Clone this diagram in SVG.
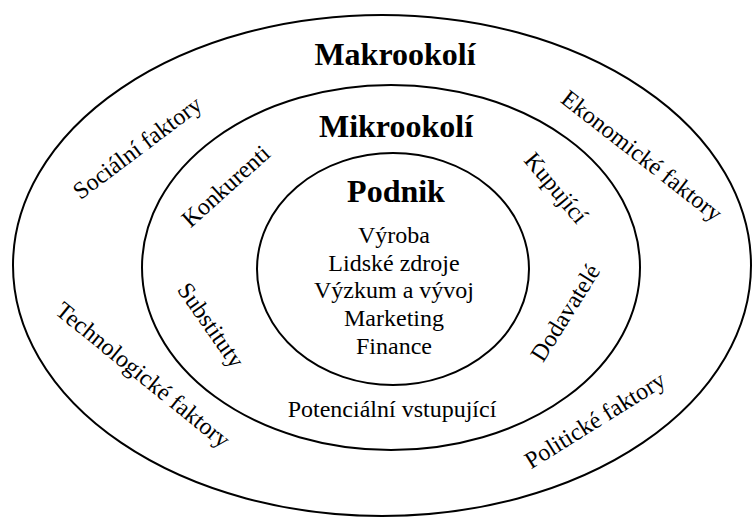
<svg xmlns="http://www.w3.org/2000/svg" width="753" height="517" viewBox="0 0 753 517">
<style>
.ring{fill:none;stroke:#000;stroke-width:2}
.t{font-family:"Liberation Serif","Times New Roman",serif;font-size:24px;fill:#000;text-anchor:middle}
.h{font-family:"Liberation Serif","Times New Roman",serif;font-size:32px;font-weight:bold;fill:#000;text-anchor:middle}
</style>
<rect width="753" height="517" fill="#fff"/>
<g id="makrookoli">
<ellipse class="ring" cx="382" cy="265.5" rx="369" ry="250.5"/>
<text class="h" x="395" y="65">Makrookolí</text>
<text class="t" transform="translate(142,154) rotate(-37)">Sociální faktory</text>
<text class="t" transform="translate(637,162) rotate(38)">Ekonomické faktory</text>
<text class="t" transform="translate(138,381) rotate(39)">Technologické faktory</text>
<text class="t" transform="translate(599,427) rotate(-32)">Politické faktory</text>
</g>
<g id="mikrookoli">
<ellipse class="ring" cx="391" cy="267.5" rx="249" ry="182.5"/>
<text class="h" x="396" y="137">Mikrookolí</text>
<text class="t" transform="translate(231,192) rotate(-42)">Konkurenti</text>
<text class="t" transform="translate(550,193) rotate(50)">Kupující</text>
<text class="t" transform="translate(204.5,329.6) rotate(55)">Substituty</text>
<text class="t" transform="translate(572,317) rotate(-58)">Dodavatelé</text>
<text class="t" x="392" y="417">Potenciální vstupující</text>
</g>
<g id="podnik">
<ellipse class="ring" cx="393" cy="269" rx="136" ry="116"/>
<text class="h" x="396" y="202">Podnik</text>
<text class="t" x="394" y="243">Výroba</text>
<text class="t" x="394" y="270.7">Lidské zdroje</text>
<text class="t" x="394" y="298.4">Výzkum a vývoj</text>
<text class="t" x="394" y="326">Marketing</text>
<text class="t" x="394" y="353.8">Finance</text>
</g>
<g id="connectors"></g>
</svg>
